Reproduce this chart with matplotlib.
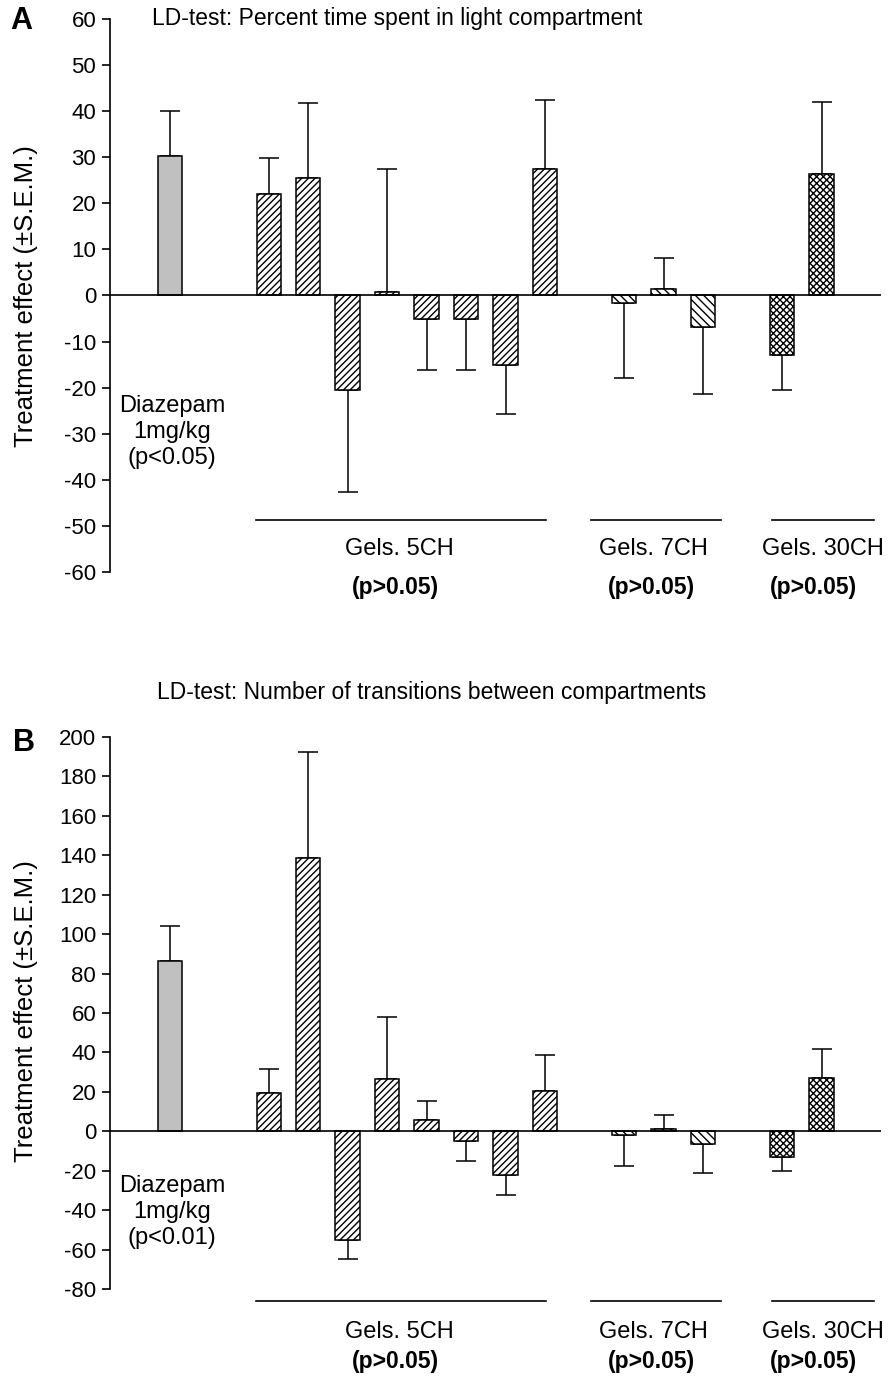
import numpy as np
import matplotlib
matplotlib.use("Agg")
import matplotlib.pyplot as plt

plt.rcParams['font.family'] = ['Liberation Sans', 'DejaVu Sans']
plt.rcParams['hatch.linewidth'] = 1.0
plt.rcParams['axes.unicode_minus'] = False

# bar positions (group layout) and styles
xpos = [0, 2.5, 3.5, 4.5, 5.5, 6.5, 7.5, 8.5, 9.5, 11.5, 12.5, 13.5, 15.5, 16.5]
groups = ['diaz'] + ['5CH'] * 8 + ['7CH'] * 3 + ['30CH'] * 2

# panel A: percent time spent in light compartment
mean_a = [30.3, 22.1, 25.5, -20.6, 0.7, -5.1, -5.1, -15.0, 27.4, -1.7, 1.4, -6.9, -13.0, 26.4]
sem_a = [9.7, 7.8, 16.3, 22.0, 26.8, 11.1, 11.1, 10.7, 15.1, 16.1, 6.7, 14.5, 7.6, 15.5]

# panel B: number of transitions between compartments
mean_b = [86.6, 19.7, 138.4, -55.2, 26.7, 5.6, -5.1, -22.3, 20.6, -1.7, 1.2, -6.4, -13.0, 27.0]
sem_b = [17.7, 11.9, 53.9, 9.3, 31.5, 9.6, 9.7, 9.9, 18.2, 16.0, 7.1, 14.7, 7.0, 15.0]

styles = {
    'diaz': dict(color='#c0c0c0', hatch=None),
    '5CH': dict(color='white', hatch='/////'),
    '7CH': dict(color='white', hatch='\\\\\\\\'),
    '30CH': dict(color='white', hatch='xxxxx'),
}

# group underline spans and labels
spans = [(2.18, 9.52), (10.66, 13.95), (15.24, 17.82)]
group_names = ['Gels. 5CH', 'Gels. 7CH', 'Gels. 30CH']
name_x = [5.82, 12.25, 16.53]
p_x = [5.7, 12.2, 16.3]

FS = 17


def draw_panel(ax, means, sems, ylim, step, line_y, name_y, p_y, diaz_p, diaz_y):
    for x, m, g in zip(xpos, means, groups):
        st = styles[g]
        ax.bar(x, m, width=0.62, color=st['color'], hatch=st['hatch'],
               edgecolor='black', linewidth=1.1, zorder=2)
    means = np.array(means)
    sems = np.array(sems)
    lower = np.where(means < 0, sems, 0)
    upper = np.where(means >= 0, sems, 0)
    ax.errorbar(xpos, means, yerr=[lower, upper], fmt='none', ecolor='black',
                elinewidth=1.1, capsize=7, capthick=1.1, zorder=1)
    ax.axhline(0, color='black', lw=1.2, zorder=3)
    ax.set_xlim(-1.52, 18.0)
    ax.set_ylim(*ylim)
    ax.set_yticks(np.arange(ylim[0], ylim[1] + 1, step))
    ax.set_xticks([])
    for s in ['top', 'right', 'bottom']:
        ax.spines[s].set_visible(False)
    ax.spines['left'].set_linewidth(1.2)
    ax.tick_params(axis='y', direction='out', length=6, width=1.2, labelsize=16, pad=4)
    for (x0, x1), nm, nx, px in zip(spans, group_names, name_x, p_x):
        ax.plot([x0, x1], [line_y, line_y], color='black', lw=1.2, clip_on=False)
        ax.text(nx, name_y, nm, ha='center', va='center', fontsize=FS, clip_on=False)
        ax.text(px, p_y, '(p>0.05)', ha='center', va='center', fontsize=16.5,
                fontweight='bold', clip_on=False)
    ax.text(0.05, diaz_y, 'Diazepam\n1mg/kg\n' + diaz_p, ha='center', va='center',
            fontsize=FS, linespacing=1.25)


fig = plt.figure(figsize=(8.88, 13.76), dpi=100)
ax_a = fig.add_axes([0.1239, 0.5843, 0.868, 0.4019])
ax_b = fig.add_axes([0.1239, 0.0630, 0.868, 0.4016])

draw_panel(ax_a, mean_a, sem_a, (-60, 60), 10, -48.7, -55.0, -63.3, '(p<0.05)', -29.6)
draw_panel(ax_b, mean_b, sem_b, (-80, 200), 20, -86.0, -101.5, -116.8, '(p<0.01)', -40.7)

fig.text(152 / 888, 1 - 19 / 1376, 'LD-test: Percent time spent in light compartment',
         ha='left', va='center', fontsize=16.5)
fig.text(157 / 888, 1 - 692 / 1376, 'LD-test: Number of transitions between compartments',
         ha='left', va='center', fontsize=16.5)
fig.text(10 / 888, 1 - 21 / 1376, 'A', ha='left', va='center', fontsize=22, fontweight='bold')
fig.text(13 / 888, 1 - 743 / 1376, 'B', ha='left', va='center', fontsize=22, fontweight='bold')
fig.text(26 / 888, 1 - 296 / 1376, 'Treatment effect (\u00b1S.E.M.)', rotation=90,
         ha='center', va='center', fontsize=18.5)
fig.text(26 / 888, 1 - 1011 / 1376, 'Treatment effect (\u00b1S.E.M.)', rotation=90,
         ha='center', va='center', fontsize=18.5)

fig.savefig('out.png', dpi=100)
